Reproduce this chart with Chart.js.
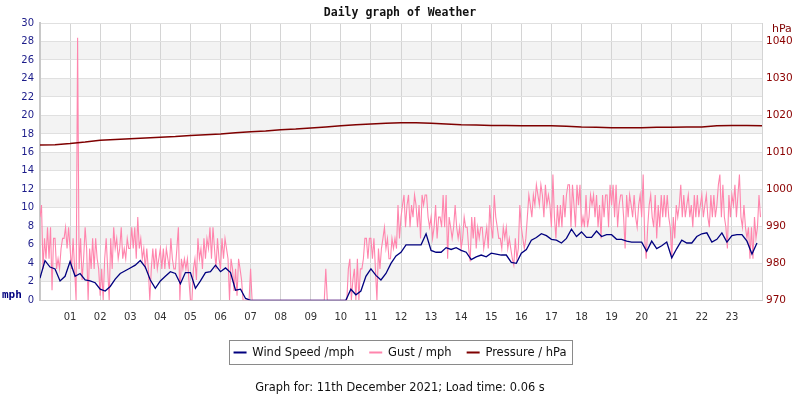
<!DOCTYPE html>
<html>
<head>
<meta charset="utf-8">
<script src="https://cdn.jsdelivr.net/npm/chart.js@4.4.1/dist/chart.umd.min.js"></script>
<style>
    html, body { margin: 0; padding: 0; background: #fff; }
    #wrap { width: 800px; height: 400px; }
</style>
</head>
<body>
<div id="wrap"><canvas id="weatherChart" width="800" height="400"></canvas></div>
<script>
/* ─── Data (11 Dec 2021) ─── */
const HOUR_LABELS = ['', '01', '02', '03', '04', '05', '06', '07', '08', '09', '10', '11', '12',
    '13', '14', '15', '16', '17', '18', '19', '20', '21', '22', '23', ''];

/* wind speed, mph, one value every 10 minutes */
const WIND_STEP_MIN = 10;
const WIND_MPH = [
    2.4, 4.3, 3.6, 3.4, 2.1, 2.6,
    4.2, 2.6, 2.9, 2.2, 2.1, 1.9,
    1.2, 1.0, 1.5, 2.3, 2.9, 3.2,
    3.5, 3.8, 4.3, 3.6, 2.2, 1.3,
    2.1, 2.6, 3.1, 2.9, 1.8, 3.0,
    3.0, 1.3, 2.1, 3.0, 3.1, 3.8,
    3.1, 3.5, 3.0, 1.1, 1.2, 0.2,
    0, 0, 0, 0, 0, 0,
    0, 0, 0, 0, 0, 0,
    0, 0, 0, 0, 0, 0,
    0, 0, 1.2, 0.6, 1.0, 2.6,
    3.4, 2.7, 2.2, 2.9, 4.0, 4.8,
    5.2, 6.0, 6.0, 6.0, 6.0, 7.2,
    5.4, 5.2, 5.2, 5.7, 5.5, 5.7,
    5.4, 5.2, 4.4, 4.7, 4.9, 4.7,
    5.1, 5.0, 4.9, 4.9, 4.1, 4.0,
    5.1, 5.5, 6.5, 6.8, 7.2, 7.0,
    6.6, 6.5, 6.2, 6.7, 7.7, 6.9,
    7.4, 6.8, 6.8, 7.5, 6.9, 7.1,
    7.1, 6.6, 6.6, 6.4, 6.3, 6.3,
    6.3, 5.3, 6.4, 5.6, 5.9, 6.3,
    4.6, 5.6, 6.5, 6.2, 6.2, 6.9,
    7.2, 7.3, 6.3, 6.6, 7.3, 6.3,
    7.0, 7.1, 7.1, 6.4, 5.0, 6.2
];

/* gust, mph, one value every 3 minutes (20 per hour, one row per hour) */
const GUST_STEP_MIN = 3;
const GUST_MPH = [
    9.0, 10.3, 3.4, 6.7, 4.5, 7.9, 4.5, 7.9, 1.1, 6.7, 6.7, 3.4, 4.5, 3.4, 5.6, 6.7, 6.7, 7.9, 5.6, 7.9,
    5.6, 3.4, 6.7, 3.4, 0.0, 28.4, 3.4, 6.7, 2.2, 4.5, 7.9, 5.6, 0.0, 5.6, 3.4, 6.7, 3.4, 6.7, 4.5, 3.4,
    0.5, 3.4, 0.0, 4.5, 6.7, 3.4, 0.0, 6.7, 3.4, 7.9, 5.6, 6.7, 4.5, 5.6, 7.9, 4.5, 5.6, 4.5, 6.7, 5.6,
    5.6, 7.9, 5.6, 7.9, 4.5, 9.0, 5.6, 6.7, 4.5, 5.6, 3.4, 5.6, 3.4, 0.0, 3.4, 5.6, 3.4, 5.6, 3.4, 4.5,
    5.6, 3.4, 5.6, 3.4, 5.6, 4.5, 3.4, 6.7, 4.5, 3.4, 3.4, 5.6, 7.9, 0.0, 4.5, 3.4, 4.5, 3.4, 4.5, 2.2,
    0.0, 0.0, 3.4, 4.5, 2.2, 6.7, 4.5, 5.6, 3.4, 6.7, 4.5, 6.7, 5.6, 7.9, 4.5, 7.9, 5.6, 3.4, 6.7, 4.5,
    3.4, 6.7, 4.5, 6.7, 5.6, 4.5, 0.0, 4.5, 3.4, 1.0, 3.4, 0.5, 4.5, 3.4, 2.2, 0.0, 0.0, 0.0, 0.0, 0.0,
    3.4, 0, 0, 0, 0, 0, 0, 0, 0, 0, 0, 0, 0, 0, 0, 0, 0, 0, 0, 0,
    0, 0, 0, 0, 0, 0, 0, 0, 0, 0, 0, 0, 0, 0, 0, 0, 0, 0, 0, 0,
    0, 0, 0, 0, 0, 0, 0, 0, 0, 0, 3.4, 0, 0, 0, 0, 0, 0, 0, 0, 0,
    0, 0, 0, 0, 0, 3.4, 4.5, 0.0, 2.2, 3.4, 0.0, 4.5, 0.0, 3.4, 3.4, 4.5, 6.7, 6.7, 4.5, 6.7,
    6.7, 4.5, 6.7, 3.4, 0.0, 5.6, 3.4, 5.6, 6.7, 7.9, 5.6, 6.7, 4.5, 4.5, 6.7, 5.6, 6.7, 5.6, 10.3, 6.7,
    9.0, 10.3, 11.4, 7.9, 10.3, 11.4, 7.9, 10.3, 9.0, 11.4, 10.3, 7.9, 10.3, 6.7, 11.4, 10.3, 11.4, 11.4, 9.0, 7.9,
    9.0, 6.7, 7.9, 10.3, 6.7, 9.0, 9.0, 7.9, 11.4, 7.9, 11.4, 4.5, 9.0, 7.9, 6.7, 7.9, 10.3, 7.9, 6.7, 7.9,
    5.6, 6.7, 9.0, 7.9, 7.9, 5.6, 4.2, 9.0, 6.7, 9.0, 5.6, 7.9, 6.7, 7.9, 7.9, 5.6, 6.7, 7.9, 5.6, 10.3,
    7.9, 6.7, 11.4, 9.0, 7.9, 6.7, 6.7, 5.6, 7.9, 6.7, 7.9, 5.6, 6.7, 5.6, 4.5, 3.8, 6.7, 4.5, 5.6, 10.3,
    7.9, 6.7, 5.6, 6.7, 9.0, 11.4, 10.3, 9.0, 11.4, 10.3, 12.5, 11.4, 10.3, 12.5, 11.4, 9.0, 12.5, 10.3, 11.4, 10.3,
    7.9, 13.6, 9.0, 6.7, 10.3, 7.9, 10.3, 7.9, 11.4, 9.0, 11.4, 12.5, 12.5, 7.9, 12.5, 10.3, 7.9, 12.5, 10.3, 12.5,
    7.9, 9.0, 7.9, 11.4, 7.9, 9.0, 11.4, 10.3, 11.4, 9.0, 11.4, 7.9, 10.3, 6.7, 11.4, 9.0, 11.4, 11.4, 7.9, 12.5,
    10.3, 12.5, 9.0, 12.5, 7.9, 10.3, 11.4, 11.4, 9.0, 5.6, 11.4, 9.0, 11.4, 10.3, 9.0, 11.4, 9.0, 7.9, 10.3, 11.4,
    9.0, 13.6, 6.7, 4.5, 7.9, 10.3, 11.4, 9.0, 7.9, 11.4, 6.7, 10.3, 7.9, 11.4, 9.0, 11.4, 9.0, 11.4, 9.0, 7.9,
    4.5, 9.0, 6.7, 10.3, 9.0, 10.3, 12.5, 9.0, 11.4, 9.0, 10.3, 11.4, 9.0, 10.3, 7.9, 11.4, 9.0, 11.4, 9.0, 10.3,
    11.4, 9.0, 10.3, 11.4, 9.0, 7.9, 11.4, 9.0, 11.4, 9.0, 10.3, 12.5, 13.6, 9.0, 12.5, 9.0, 7.9, 5.6, 11.4, 9.0,
    11.4, 10.3, 12.5, 9.0, 11.4, 13.6, 9.0, 7.9, 10.3, 7.9, 6.7, 7.9, 4.5, 7.9, 4.5, 9.0, 6.7, 7.9, 11.4, 9.0
];

/* pressure, hPa, one value every 30 minutes */
const PRESSURE_STEP_MIN = 30;
const PRESSURE_HPA = [
    1012.0, 1012.1, 1012.4, 1012.8, 1013.3, 1013.5, 1013.7, 1013.9,
    1014.1, 1014.3, 1014.6, 1014.8, 1015.0, 1015.3, 1015.6, 1015.8,
    1016.1, 1016.3, 1016.6, 1016.9, 1017.2, 1017.5, 1017.7, 1017.9,
    1018.0, 1018.0, 1017.9, 1017.7, 1017.5, 1017.4, 1017.3, 1017.3,
    1017.2, 1017.2, 1017.2, 1017.1, 1016.9, 1016.8, 1016.7, 1016.7,
    1016.7, 1016.8, 1016.8, 1016.9, 1016.9, 1017.2, 1017.3, 1017.3,
    1017.2
];

/* ─── Colours ─── */
const C_WIND = '#00007f';
const C_GUST = '#ff85ad';
const C_PRES = '#7f0000';
const C_GRID = '#d4d4d4';
const C_BAND = '#f3f3f3';

function toPoints(values, stepMin) {
    return values.map(function (v, i) { return { x: i * stepMin / 60, y: v }; });
}

/* ─── Alternate grey bands behind the grid ─── */
const bandPlugin = {
    id: 'bands',
    beforeDraw: function (chart) {
        const { ctx, chartArea: a, scales: { y } } = chart;
        ctx.save();
        ctx.fillStyle = '#fff';
        ctx.fillRect(0, 0, chart.width, chart.height);
        ctx.fillStyle = C_BAND;
        for (let v = 2; v < y.max; v += 4) {
            const top = y.getPixelForValue(v + 2);
            const bot = y.getPixelForValue(v);
            ctx.fillRect(a.left, top, a.right - a.left, bot - top);
        }
        ctx.restore();
    }
};

/* ─── Unit captions + legend frame ─── */
const decorPlugin = {
    id: 'decor',
    afterDraw: function (chart) {
        const { ctx, chartArea: a } = chart;
        ctx.save();
        ctx.textBaseline = 'middle';
        ctx.textAlign = 'left';
        ctx.fillStyle = C_WIND;
        ctx.font = 'bold 11px "DejaVu Sans Mono"';
        ctx.fillText('mph', 2, a.bottom - 5);
        ctx.fillStyle = C_PRES;
        ctx.font = '11px "DejaVu Sans"';
        ctx.fillText('hPa', a.right + 10, a.top + 6);

        const boxes = chart.legend.legendHitBoxes;
        if (boxes && boxes.length) {
            const first = boxes[0];
            const last = boxes[boxes.length - 1];
            const left = Math.round(first.left - 5) + 0.5;
            const right = Math.round(last.left + last.width + 6) + 0.5;
            const top = Math.round(first.top - 7) + 0.5;
            const bottom = Math.round(first.top + first.height + 6) + 0.5;
            ctx.strokeStyle = '#8a8a8a';
            ctx.lineWidth = 1;
            ctx.strokeRect(left, top, right - left, bottom - top);
        }
        ctx.restore();
    }
};

new Chart(document.getElementById('weatherChart'), {
    type: 'line',
    data: {
        datasets: [{
            label: 'Wind Speed /mph',
            data: toPoints(WIND_MPH, WIND_STEP_MIN),
            borderColor: C_WIND,
            backgroundColor: C_WIND,
            borderWidth: 1.3,
            yAxisID: 'y',
            order: 1
        }, {
            label: 'Gust / mph',
            data: toPoints(GUST_MPH, GUST_STEP_MIN),
            borderColor: C_GUST,
            backgroundColor: C_GUST,
            borderWidth: 1.1,
            yAxisID: 'y',
            order: 2
        }, {
            label: 'Pressure / hPa',
            data: toPoints(PRESSURE_HPA, PRESSURE_STEP_MIN),
            borderColor: C_PRES,
            backgroundColor: C_PRES,
            borderWidth: 1.5,
            yAxisID: 'y1',
            order: 0
        }]
    },
    options: {
        responsive: false,
        animation: false,
        devicePixelRatio: 1,
        elements: { point: { radius: 0 }, line: { tension: 0 } },
        layout: { padding: 0 },
        plugins: {
            title: {
                display: true,
                text: 'Daily graph of Weather',
                color: '#111',
                font: { family: '"DejaVu Sans Mono"', size: 11.5, weight: 'bold', lineHeight: 1.2 },
                padding: { top: 6, bottom: 3.2 }
            },
            subtitle: {
                display: true,
                position: 'bottom',
                text: 'Graph for: 11th December 2021; Load time: 0.06 s',
                color: '#111',
                font: { family: '"DejaVu Sans"', size: 11.4, lineHeight: 1.2 },
                padding: { top: 13, bottom: 5 }
            },
            legend: {
                position: 'bottom',
                labels: {
                    color: '#111',
                    font: { family: '"DejaVu Sans"', size: 11.5 },
                    boxWidth: 13,
                    boxHeight: 2,
                    padding: 15,
                    sort: function (a, b) { return a.datasetIndex - b.datasetIndex; },
                    generateLabels: function (chart) {
                        return Chart.defaults.plugins.legend.labels.generateLabels(chart)
                            .map(function (l) { l.lineWidth = 0; return l; });
                    }
                }
            },
            tooltip: { enabled: false }
        },
        scales: {
            x: {
                type: 'linear',
                min: 0,
                max: 24,
                afterFit: function (s) { s.height = 31.5; },
                grid: { color: C_GRID, drawTicks: false },
                border: { color: '#c8c8c8', width: 1 },
                ticks: {
                    stepSize: 1,
                    autoSkip: false,
                    maxRotation: 0,
                    padding: 11,
                    color: '#333',
                    font: { family: '"DejaVu Sans"', size: 10 },
                    callback: function (v) { return HOUR_LABELS[v] || ''; }
                }
            },
            y: {
                position: 'left',
                min: 0,
                max: 30,
                afterFit: function (s) { s.width = 40; },
                grid: { color: '#e0e0e0', drawTicks: false },
                border: { color: '#c8c8c8', width: 2 },
                ticks: {
                    stepSize: 2,
                    padding: 6,
                    color: '#1c1c8a',
                    font: { family: '"DejaVu Sans"', size: 10 }
                }
            },
            y1: {
                position: 'right',
                min: 970,
                max: 1045,
                afterFit: function (s) { s.width = 38; },
                afterBuildTicks: function (s) {
                    s.ticks = s.ticks.filter(function (t) { return t.value <= 1040; });
                },
                grid: { display: false, drawTicks: false },
                border: { display: false },
                ticks: {
                    stepSize: 10,
                    padding: 4,
                    color: '#8b0000',
                    font: { family: '"DejaVu Sans"', size: 10.5 },
                    callback: function (v) { return String(v); }
                }
            }
        }
    },
    plugins: [bandPlugin, decorPlugin]
});
</script>
</body>
</html>
